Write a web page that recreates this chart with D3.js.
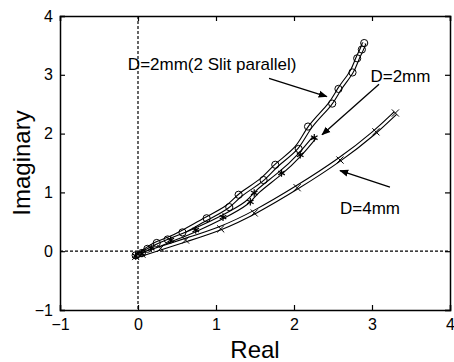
<!DOCTYPE html>
<html>
<head>
<meta charset="utf-8">
<script src="https://cdn.jsdelivr.net/npm/d3@7"></script>
<style>
  body { margin: 0; background: #fff; }
  text { font-family: Arial, "Liberation Sans", sans-serif; fill: #000; }
</style>
</head>
<body>
<div id="chart"></div>
<script>
// series (real, imaginary)
var slitParallel = [
  [-0.03, -0.07], [0.05, -0.03], [0.12, 0.04], [0.24, 0.14], [0.38, 0.20], [0.57, 0.32],
  [0.88, 0.56], [1.17, 0.75], [1.29, 0.96], [1.61, 1.21], [1.76, 1.47],
  [2.06, 1.74], [2.18, 2.12], [2.49, 2.51], [2.57, 2.76], [2.75, 3.04],
  [2.81, 3.28], [2.87, 3.43], [2.90, 3.54]
];
var d2mm = [
  [-0.03, -0.08], [0.05, -0.04], [0.17, 0.05], [0.42, 0.19], [0.74, 0.36], [1.09, 0.58],
  [1.44, 0.84], [1.49, 0.99], [1.84, 1.33], [2.08, 1.64], [2.26, 1.93]
];
var d4mm = [
  [-0.03, -0.09], [0.05, -0.05], [0.29, 0.05], [0.61, 0.19], [1.06, 0.38], [1.49, 0.65],
  [2.04, 1.08], [2.59, 1.55], [3.05, 2.03], [3.30, 2.35]
];
var xTicks = [-1, 0, 1, 2, 3, 4];
var yTicks = [-1, 0, 1, 2, 3, 4];

var W = 454, H = 362;
var margin = { top: 16, right: 4, bottom: 52, left: 60 },
    width = W - margin.left - margin.right,
    height = H - margin.top - margin.bottom;

var x = d3.scaleLinear().domain([-1, 4]).range([0, width]);
var y = d3.scaleLinear().domain([-1, 4]).range([height, 0]);

var svg = d3.select("#chart").append("svg")
    .attr("width", W)
    .attr("height", H);

var defs = svg.append("defs");
defs.append("marker")
    .attr("id", "arrow")
    .attr("viewBox", "0 0 10 10")
    .attr("refX", 9).attr("refY", 5)
    .attr("markerWidth", 9).attr("markerHeight", 9)
    .attr("markerUnits", "userSpaceOnUse")
    .attr("orient", "auto")
    .append("path")
    .attr("d", "M0,1L10,5L0,9z")
    .attr("fill", "#000");

var g = svg.append("g")
    .attr("transform", "translate(" + margin.left + "," + margin.top + ")");

// dashed zero lines
g.append("line")
    .attr("x1", x(0)).attr("x2", x(0))
    .attr("y1", 0).attr("y2", height)
    .attr("stroke", "#000").attr("stroke-width", 1.2)
    .attr("stroke-dasharray", "3,2");
g.append("line")
    .attr("x1", 0).attr("x2", width)
    .attr("y1", y(0)).attr("y2", y(0))
    .attr("stroke", "#000").attr("stroke-width", 1.2)
    .attr("stroke-dasharray", "3,2");

// axes with inward ticks on all four sides
g.append("g")
    .attr("transform", "translate(0," + height + ")")
    .call(d3.axisBottom(x).tickValues(xTicks).tickSize(-5).tickPadding(9).tickFormat(d3.format("d")));
g.append("g")
    .call(d3.axisLeft(y).tickValues(yTicks).tickSize(-5).tickPadding(7).tickFormat(d3.format("d")));
g.append("g")
    .call(d3.axisTop(x).tickValues(xTicks).tickSize(-5).tickFormat(""));
g.append("g")
    .attr("transform", "translate(" + width + ",0)")
    .call(d3.axisRight(y).tickValues(yTicks).tickSize(-5).tickFormat(""));
g.selectAll(".domain").attr("stroke-width", 1.5);
g.selectAll(".tick line").attr("stroke-width", 1.2);
g.selectAll(".tick text")
    .attr("font-size", 16)
    .attr("font-family", "Arial, 'Liberation Sans', sans-serif");

var line = d3.line()
    .x(function (d) { return x(d[0]); })
    .y(function (d) { return y(d[1]); })
    .curve(d3.curveBasis);

// each curve drawn as a thin double line
[slitParallel, d2mm, d4mm].forEach(function (data) {
  g.append("path").datum(data)
      .attr("d", line)
      .attr("fill", "none").attr("stroke", "#000").attr("stroke-width", 4.6);
  g.append("path").datum(data)
      .attr("d", line)
      .attr("fill", "none").attr("stroke", "#fff").attr("stroke-width", 2.4);
});

// markers
g.selectAll(".circ").data(slitParallel).enter().append("circle")
    .attr("cx", function (d) { return x(d[0]); })
    .attr("cy", function (d) { return y(d[1]); })
    .attr("r", 3.6)
    .attr("fill", "none").attr("stroke", "#000").attr("stroke-width", 1);

var star = d3.symbol().type(d3.symbolAsterisk).size(40);
g.selectAll(".star").data(d2mm).enter().append("path")
    .attr("transform", function (d) { return "translate(" + x(d[0]) + "," + y(d[1]) + ")"; })
    .attr("d", star)
    .attr("fill", "none").attr("stroke", "#000").attr("stroke-width", 1.2);

var cross = d3.symbol().type(d3.symbolTimes).size(35);
g.selectAll(".cross").data(d4mm).enter().append("path")
    .attr("transform", function (d) { return "translate(" + x(d[0]) + "," + y(d[1]) + ")"; })
    .attr("d", cross)
    .attr("fill", "none").attr("stroke", "#000").attr("stroke-width", 1);

// annotations
function note(label, tx, ty, from, to) {
  g.append("text")
      .attr("x", x(tx)).attr("y", y(ty))
      .attr("font-size", 17)
      .text(label);
  g.append("line")
      .attr("x1", x(from[0])).attr("y1", y(from[1]))
      .attr("x2", x(to[0])).attr("y2", y(to[1]))
      .attr("stroke", "#000").attr("stroke-width", 1.3)
      .attr("marker-end", "url(#arrow)");
}
note("D=2mm(2 Slit parallel)", -0.13, 3.09, [1.68, 2.94], [2.42, 2.63]);
note("D=2mm", 2.98, 2.87, [3.09, 2.84], [2.36, 1.98]);
note("D=4mm", 2.59, 0.63, [3.23, 1.09], [2.59, 1.37]);

// axis titles
svg.append("text")
    .attr("x", margin.left + width / 2).attr("y", 358)
    .attr("text-anchor", "middle")
    .attr("font-size", 24)
    .text("Real");
svg.append("text")
    .attr("transform", "translate(30," + (margin.top + height / 2) + ") rotate(-90)")
    .attr("text-anchor", "middle")
    .attr("font-size", 24)
    .text("Imaginary");
</script>
</body>
</html>
